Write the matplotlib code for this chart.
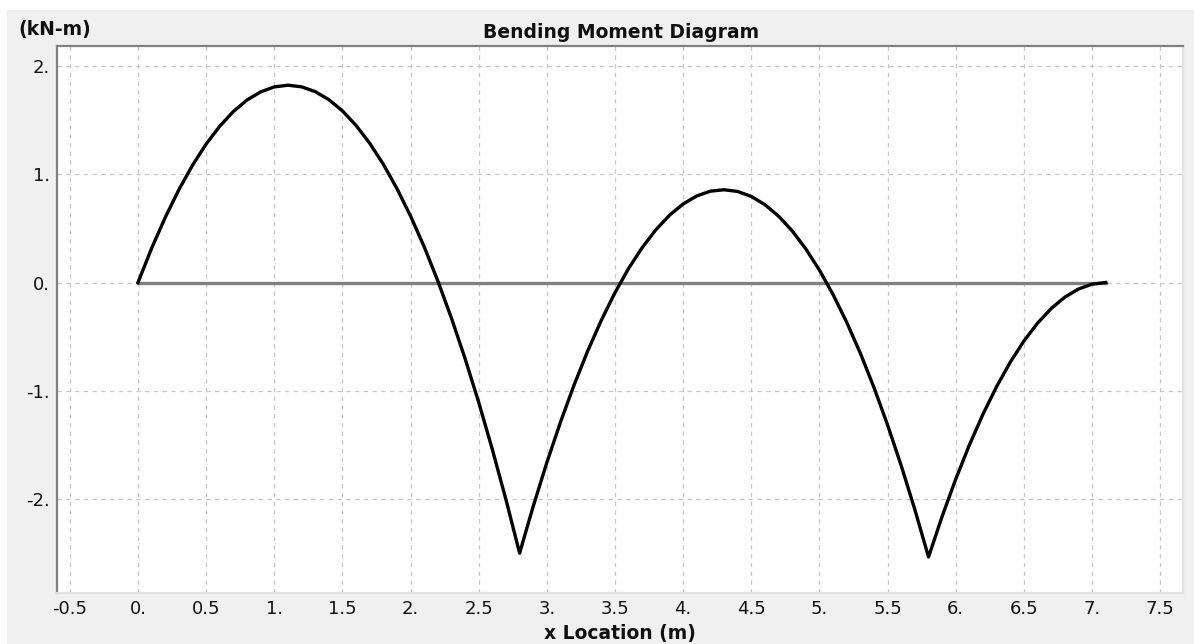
import matplotlib
matplotlib.use('Agg')
import matplotlib.pyplot as plt
from matplotlib.patches import Rectangle
from matplotlib.ticker import FuncFormatter

# moment values (kN-m), beam 0 .. 7.1 m
x_loc = [0.0, 0.1, 0.2, 0.3, 0.4, 0.5, 0.6, 0.7, 0.8, 0.9,
         1.0, 1.1, 1.2, 1.3, 1.4, 1.5, 1.6, 1.7, 1.8, 1.9,
         2.0, 2.1, 2.2, 2.3, 2.4, 2.5, 2.6, 2.7, 2.8, 2.9,
         3.0, 3.1, 3.2, 3.3, 3.4, 3.5, 3.6, 3.7, 3.8, 3.9,
         4.0, 4.1, 4.2, 4.3, 4.4, 4.5, 4.6, 4.7, 4.8, 4.9,
         5.0, 5.1, 5.2, 5.3, 5.4, 5.5, 5.6, 5.7, 5.8, 5.9,
         6.0, 6.1, 6.2, 6.3, 6.4, 6.5, 6.6, 6.7, 6.8, 6.9,
         7.0, 7.1]
moment = [0.0, 0.316, 0.601, 0.857, 1.083, 1.279, 1.444, 1.580, 1.686, 1.761,
          1.807, 1.823, 1.808, 1.764, 1.690, 1.586, 1.451, 1.287, 1.093, 0.868,
          0.614, 0.330, 0.015, -0.329, -0.703, -1.107, -1.542, -2.006, -2.500, -2.066,
          -1.662, -1.289, -0.945, -0.631, -0.347, -0.093, 0.131, 0.324, 0.488, 0.622,
          0.726, 0.800, 0.844, 0.857, 0.841, 0.795, 0.719, 0.613, 0.477, 0.310,
          0.114, -0.112, -0.368, -0.654, -0.970, -1.317, -1.693, -2.099, -2.535, -2.160,
          -1.815, -1.500, -1.215, -0.960, -0.735, -0.540, -0.375, -0.240, -0.135, -0.060,
          -0.015, 0.0]
beam_x = [0.0, 7.1]
beam_y = [0.0, 0.0]

xticks = [-0.5, 0, 0.5, 1, 1.5, 2, 2.5, 3, 3.5, 4, 4.5, 5, 5.5, 6, 6.5, 7, 7.5]
yticks = [-2, -1, 0, 1, 2]


def fmt(v, pos):
    if abs(v - round(v)) < 1e-9:
        return '%d.' % round(v)
    return '%g' % v


fig = plt.figure(figsize=(11.94, 6.44), dpi=100, facecolor='white')
fig.patches.append(Rectangle((7 / 1194, 0), 1 - 7 / 1194, 1 - 10 / 644,
                             transform=fig.transFigure, facecolor='#f0f0f0',
                             edgecolor='none', zorder=-10))

ax = fig.add_axes([57 / 1194, 1 - 593 / 644, (1183 - 57) / 1194, (593 - 46) / 644])
ax.set_facecolor('white')

ax.plot(beam_x, beam_y, color='#808080', lw=2.4, zorder=2)
ax.plot(x_loc, moment, color='black', lw=2.4, zorder=3)

ax.set_xlim(-0.594, 7.667)
ax.set_ylim(-2.868, 2.185)
ax.set_xticks(xticks)
ax.set_yticks(yticks)
ax.xaxis.set_major_formatter(FuncFormatter(fmt))
ax.yaxis.set_major_formatter(FuncFormatter(fmt))
ax.tick_params(length=0, labelsize=13, colors='#111111')
ax.tick_params(axis='x', pad=5)
ax.tick_params(axis='y', pad=5)
ax.grid(True, color='#c8c8c8', lw=0.9, linestyle=(0, (3.5, 3.5)))
ax.set_axisbelow(True)

for side in ['top', 'left']:
    ax.spines[side].set_color('#808080')
    ax.spines[side].set_linewidth(1.6)
for side in ['right', 'bottom']:
    ax.spines[side].set_color('#e3e3e3')
    ax.spines[side].set_linewidth(1.6)

fig.text(621 / 1194, 1 - 33 / 644, 'Bending Moment Diagram', ha='center', va='center',
         fontsize=13.5, fontweight='bold', color='#101010')
fig.text(18 / 1194, 1 - 30 / 644, '(kN-m)', ha='left', va='center',
         fontsize=13.5, fontweight='bold', color='#101010')
fig.text(620 / 1194, 1 - 633 / 644, 'x Location (m)', ha='center', va='center',
         fontsize=13.5, fontweight='bold', color='#101010')

fig.savefig('out.png', dpi=100, facecolor=fig.get_facecolor())
print('finish')
